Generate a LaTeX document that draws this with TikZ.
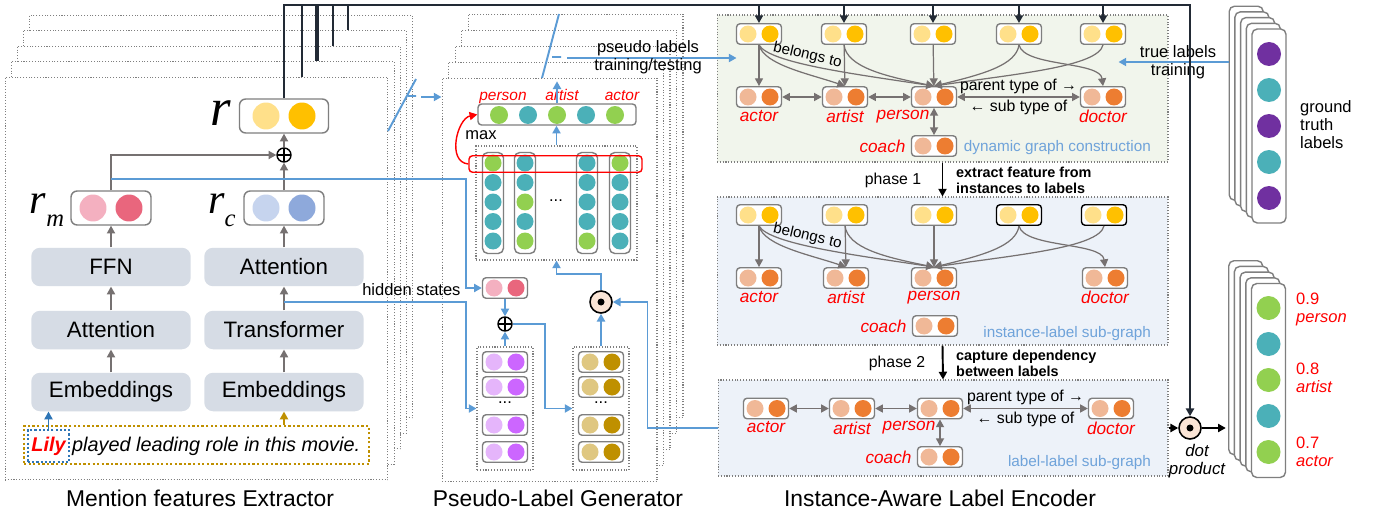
\documentclass[tikz,border=0pt]{standalone}
\usepackage{fontspec}
\setmainfont{Liberation Sans}
\newfontfamily\rfont{Liberation Serif}
\usepackage{tikz}
\usetikzlibrary{arrows.meta,positioning,calc}
\usepackage{xcolor}

\definecolor{linegray}{HTML}{767171}
\definecolor{boxgray}{HTML}{7F7F7F}
\definecolor{blockbg}{HTML}{D6DCE5}
\definecolor{flowblue}{HTML}{5B9BD5}
\definecolor{lilyblue}{HTML}{2E75B6}
\definecolor{navy}{HTML}{222A35}
\definecolor{ylwL}{HTML}{FFE08A}
\definecolor{ylwD}{HTML}{FFC000}
\definecolor{pnkL}{HTML}{F4B0C0}
\definecolor{pnkD}{HTML}{E9667D}
\definecolor{bluL}{HTML}{C6D4EE}
\definecolor{bluD}{HTML}{8EA9DB}
\definecolor{grn}{HTML}{92D050}
\definecolor{tea}{HTML}{4BB0B8}
\definecolor{orgL}{HTML}{F0B897}
\definecolor{orgD}{HTML}{ED7D31}
\definecolor{prpL}{HTML}{E5B5FB}
\definecolor{prpD}{HTML}{CC66FF}
\definecolor{gldL}{HTML}{DFC781}
\definecolor{gldD}{HTML}{BF9000}
\definecolor{gtprp}{HTML}{7030A0}
\definecolor{peach}{HTML}{FBE5D6}
\definecolor{dgbg}{HTML}{F1F5EC}
\definecolor{sgbg}{HTML}{EDF2F9}
\definecolor{tagblue}{HTML}{6FA3DA}

% a small box holding two feature dots
\newcommand{\duo}[5][]{%
  \node[pair,#1] (#2) at (#3) {};
  \node[ball,fill=#4] (#2-l) at ($(#2.center)+(-11,0)$) {};
  \node[ball,fill=#5] (#2-r) at ($(#2.center)+(11,0)$) {};
}
\newcommand{\bigduo}[5][]{%
  \node[bigpair,#1] (#2) at (#3) {};
  \node[bigball,fill=#4] (#2-l) at ($(#2.center)+(-18,0)$) {};
  \node[bigball,fill=#5] (#2-r) at ($(#2.center)+(18,0)$) {};
}
% italic r with a lowered index
\newcommand{\rsub}[1]{{\rfont\itshape r\raisebox{-0.32em}{\fontsize{14}{14}\selectfont #1}}}

\begin{document}
\begin{tikzpicture}[x=0.02cm, y=-0.02cm,
        every node/.style={font=\fontsize{9.4}{10.2}\selectfont},
        every label/.style={text=red, font=\fontsize{9.8}{10}\selectfont\itshape, inner sep=0pt},
        label distance=1pt,
        >={Triangle[width=4.6pt,length=4.4pt]},
        sheet/.style={draw=boxgray, densely dotted, line width=0.6pt, fill=white, inner sep=0pt},
        gbox/.style={draw=boxgray, densely dotted, line width=0.6pt, inner sep=0pt},
        pair/.style={draw=boxgray, line width=0.8pt, rounded corners=2pt, fill=white, inner sep=0pt, minimum width=0.9cm, minimum height=0.41cm},
        bigpair/.style={pair, rounded corners=3.5pt, minimum width=1.6cm, minimum height=0.68cm},
        ball/.style={circle, inner sep=0pt, minimum size=0.34cm},
        bigball/.style={circle, inner sep=0pt, minimum size=0.54cm},
        col/.style={draw=boxgray, line width=0.8pt, rounded corners=3pt, inner sep=0pt, minimum width=0.42cm, minimum height=2.02cm},
        card/.style={draw=boxgray, line width=0.8pt, rounded corners=3pt, fill=white, inner sep=0pt, minimum width=0.68cm, minimum height=3.88cm},
        block/.style={fill=blockbg, rounded corners=5pt, inner sep=0pt, minimum width=3.19cm, minimum height=0.77cm, font=\fontsize{12.7}{14}\selectfont},
        title/.style={anchor=base, font=\fontsize{13}{15}\selectfont},
        rtag/.style={anchor=base, text=red, font=\fontsize{8.8}{10}\selectfont\itshape},
        rel/.style={font=\fontsize{9}{10}\selectfont, inner sep=1.5pt},
        subtag/.style={anchor=east, text=tagblue, font=\fontsize{8.7}{10}\selectfont},
        note/.style={anchor=west, align=left, font=\fontsize{8.2}{9.2}\selectfont\bfseries},
        garrow/.style={draw=linegray, line width=0.9pt, ->},
        gedge/.style={draw=linegray, line width=0.7pt, ->},
        gboth/.style={draw=linegray, line width=0.8pt, <->},
        bline/.style={draw=flowblue, line width=1.1pt},
        barrow/.style={bline, ->},
        topline/.style={draw=navy, line width=1.3pt},
        tarrow/.style={topline, ->},
        oplus/.style={circle, draw, line width=0.8pt, fill=white, inner sep=0pt, minimum size=0.28cm,
          path picture={\draw[line width=0.8pt] (path picture bounding box.north) -- (path picture bounding box.south)
            (path picture bounding box.west) -- (path picture bounding box.east);}},
        odot/.style={circle, draw, line width=0.9pt, fill=peach, inner sep=0pt, minimum size=0.44cm,
          path picture={\fill[black] (path picture bounding box.center) circle[radius=0.07cm];}}
      ]
      \useasboundingbox (0,0) rectangle (1375,517);

      % mention features extractor
      \foreach \i in {4,...,0}
        \node[sheet, minimum width=7.66cm, minimum height=8.06cm] (mfe\i) at (196.5+6.1*\i, 278.5-15.5*\i) {};
      \node[block] (emb1) at (111,392) {Embeddings};
      \node[block] (att1) at (111,330) {Attention};
      \node[block] (ffn) at (111,267) {FFN};
      \node[block] (emb2) at (284,392) {Embeddings};
      \node[block] (trans) at (284,330) {Transformer};
      \node[block] (att2) at (284,267) {Attention};
      \bigduo{rm}{111,208}{pnkL}{pnkD}
      \bigduo{rc}{284,208}{bluL}{bluD}
      \bigduo[minimum width=1.78cm]{rvec}{284,116}{ylwL}{ylwD}
      \node[oplus] (plus) at (284,155) {};
      \node[anchor=base, font=\fontsize{30}{30}\selectfont] (rlbl) at (221,126) {\rsub{}};
      \node[anchor=base, font=\fontsize{24}{24}\selectfont] (rmlbl) at (47,213) {\rsub{m}};
      \node[anchor=base, font=\fontsize{24}{24}\selectfont] (rclbl) at (222,213) {\rsub{c}};
      \node[draw=gldD, dash pattern=on 1.3pt off 1.3pt, line width=1pt, inner sep=0pt,
        minimum width=6.9cm, minimum height=0.76cm] (sent) at (196.5,445) {};
      \node[draw=lilyblue, dash pattern=on 1.2pt off 1.2pt, line width=0.9pt, inner sep=0pt,
        minimum width=0.82cm, minimum height=0.64cm, font=\fontsize{11.3}{12}\selectfont\itshape]
        (lily) at (48.5,446) {\textcolor{red}{\bfseries Lily}};
      \node[base right=0.04cm of lily, inner sep=0pt, font=\fontsize{11.3}{12}\selectfont\itshape]
        (words) {played leading role in this movie.};
      \node[title] (t1) at (200,506) {Mention features Extractor};

      % pseudo-label generator
      \foreach \i in {4,...,0}
        \node[sheet, minimum width=4.3cm, minimum height=8.08cm] (plg\i) at (549.5+6.5*\i, 280-16*\i) {};
      \node[gbox, minimum width=3.22cm, minimum height=2.28cm] (inner) at (556.5,203) {};
      \foreach \x/\j/\cs in {493/1/{grn,tea,tea,tea,tea}, 525/2/{tea,tea,grn,tea,grn},
                             587/3/{tea,tea,tea,tea,grn}, 620/4/{grn,tea,tea,tea,tea}} {
        \node[col] (col\j) at (\x,203) {};
        \foreach \clr [count=\k] in \cs
          \node[ball, fill=\clr] (col\j-\k) at (\x,143.5+19.5*\k) {};
      }
      \node (cdots) at (556,201) {...};
      \node[draw=red, line width=0.8pt, rounded corners=2pt, inner sep=0pt,
        minimum width=3.46cm, minimum height=0.33cm] (maxrow) at (555.5,164) {};
      \node[pair, minimum width=3.16cm, minimum height=0.42cm] (outvec) at (557,114.5) {};
      \foreach \clr [count=\k] in {grn,tea,grn,tea,grn}
        \node[ball, fill=\clr, minimum size=0.36cm] (out\k) at (470+29*\k,115) {};
      \node[rtag] (tperson) at (503,101) {person};
      \node[rtag] (tartist) at (562,101) {artist};
      \node[rtag] (tactor) at (622,101) {actor};
      \node (maxlbl) at (481,135) {max};
      \duo{mpink}{505,288}{pnkL}{pnkD}
      \node[oplus] (mplus) at (505,324) {};
      \node[gbox, minimum width=1.12cm, minimum height=2.46cm] (pstack) at (505,408.5) {};
      \node[gbox, minimum width=1.12cm, minimum height=2.46cm] (gstack) at (601,408.5) {};
      \foreach \y [count=\k] in {362,387,425,452} {
        \duo{pv\k}{505,\y}{prpL}{prpD}
        \duo{gv\k}{601,\y}{gldL}{gldD}
      }
      \node (pdots) at (505,403) {...};
      \node (gdots) at (601,403) {...};
      \node[odot] (odot) at (601,302) {};
      \node[title] (t2) at (558,506) {Pseudo-Label Generator};

      % instance-aware label encoder
      \node[gbox, fill=dgbg, minimum width=9.02cm, minimum height=2.94cm] (dgbox) at (942.5,88.5) {};
      \node[gbox, fill=sgbg, minimum width=9.02cm, minimum height=2.96cm] (ilbox) at (942.5,271) {};
      \node[gbox, fill=sgbg, minimum width=9cm, minimum height=1.92cm] (llbox) at (943,428) {};
      \foreach \x [count=\k] in {759,844,933,1019,1103} {\duo{a\k}{\x,34}{ylwL}{ylwD}}
      \duo[label=below:actor]{aactor}{759,97}{orgL}{orgD}
      \duo[label=below:artist]{aartist}{845,97}{orgL}{orgD}
      \duo[label={[xshift=-0.62cm]below:person}]{aperson}{934,97}{orgL}{orgD}
      \duo[label=below:doctor]{adoctor}{1103,97}{orgL}{orgD}
      \duo[label={[label distance=0.1cm]left:coach}]{acoach}{934,146}{orgL}{orgD}
      \foreach \x/\s [count=\k] in {759/boxgray, 845/boxgray, 934/boxgray, 1019/black, 1104/black}
        {\duo[draw=\s]{b\k}{\x,215}{ylwL}{ylwD}}
      \duo[label=below:actor]{bactor}{759,278}{orgL}{orgD}
      \duo[label=below:artist]{bartist}{846,278}{orgL}{orgD}
      \duo[label=below:person]{bperson}{934,278}{orgL}{orgD}
      \duo[label=below:doctor]{bdoctor}{1105,278}{orgL}{orgD}
      \duo[label={[label distance=0.1cm]left:coach}]{bcoach}{935,326}{orgL}{orgD}
      \duo[label=below:actor]{cactor}{766,408.5}{orgL}{orgD}
      \duo[label=below:artist]{cartist}{852,408.5}{orgL}{orgD}
      \duo[label={[xshift=-0.62cm]below:person}]{cperson}{940,408.5}{orgL}{orgD}
      \duo[label=below:doctor]{cdoctor}{1111,408.5}{orgL}{orgD}
      \duo[label={[label distance=0.1cm]left:coach}]{ccoach}{940,457}{orgL}{orgD}
      \node[subtag] (dgtag) at (1157,148) {dynamic graph construction};
      \node[subtag] (iltag) at (1157,334) {instance-label sub-graph};
      \node[subtag] (lltag) at (1157,463) {label-label sub-graph};
      \node[font=\fontsize{9}{10}\selectfont] (ph1) at (893,180) {phase 1};
      \node[note] (ph1txt) at (950,180) {extract feature from\\instances to labels};
      \node[font=\fontsize{9}{10}\selectfont] (ph2) at (897,363) {phase 2};
      \node[note] (ph2txt) at (950,363) {capture dependency\\between labels};
      \node[title] (t3) at (940,506) {Instance-Aware Label Encoder};

      % label cards
      \foreach \i in {4,...,0} {
        \node[card] (gt\i) at (1269-5.7*\i,126-5.7*\i) {};
        \node[card] (pr\i) at (1268.5-5.7*\i,380.5-5.7*\i) {};
      }
      \foreach \clr [count=\k] in {gtprp,tea,gtprp,tea,gtprp}
        \node[ball, fill=\clr, minimum size=0.48cm] (gtb\k) at (1269,18+36*\k) {};
      \foreach \clr [count=\k] in {grn,tea,grn,tea,grn}
        \node[ball, fill=\clr, minimum size=0.48cm] (prb\k) at (1268.5,272+36*\k) {};
      \node[anchor=west, align=left] (gttxt) at (1294,125) {ground\\truth\\labels};
      \node[anchor=west, align=left, text=red] (sc1) at (1290,309) {0.9\\\textit{person}};
      \node[anchor=west, align=left, text=red] (sc2) at (1290,377.5) {0.8\\\textit{artist}};
      \node[anchor=west, align=left, text=red] (sc3) at (1290,452) {0.7\\\textit{actor}};
      \node[odot] (dotp) at (1190,428) {};
      \node[align=center, font=\fontsize{9.6}{10.2}\selectfont\itshape] (dptxt) at (1197,461) {dot\\product};

      % extractor connectors
      \draw[garrow] (emb1) -- (att1);
      \draw[garrow] (att1) -- (ffn);
      \draw[garrow] (ffn) -- (rm);
      \draw[garrow] (emb2) -- (trans);
      \draw[garrow] (trans) -- (att2);
      \draw[garrow] (att2) -- (rc);
      \draw[garrow] (rc) -- (plus);
      \draw[garrow] (rm.north) |- (plus.west);
      \draw[garrow] (plus) -- (rvec);
      \draw[->, draw=lilyblue, line width=1pt] (lily.north) -- (lily.north |- emb1.south);
      \draw[->, draw=gldD, line width=1pt] (sent.north -| emb2) -- (emb2.south);
      \coordinate (rmtap) at (111,179);
      \coordinate (hstap) at (284,302);
      \draw[barrow] (rmtap) -- ++(355,0) |- (mpink.west);
      \draw[barrow] (hstap) -- node[pos=.7, above, text=black] {hidden states} ++(182,0) |- (pstack.west);

      % generator connectors
      \draw[barrow] (mpink) -- (mplus);
      \draw[barrow] (pstack) -- (mplus);
      \draw[barrow] (mplus.east) -- ++(32,0) |- (gstack.west);
      \draw[barrow] (gstack) -- (odot);
      \draw[barrow] (odot.north) -- ++(0,-16) -| (inner.south);
      \draw[barrow] (inner.north) -- (inner.north |- outvec.south);
      \draw[barrow] (outvec.north) -- ++(0,-22);
      \draw[barrow] (llbox.west) -- ++(-70,0) |- (odot.east);
      \draw[->, red, line width=0.8pt] (maxrow.west) .. controls +(-22,-2) and +(-20,4) .. (outvec.west);
      \draw[bline] (388,131) -- (416,79) (408,96) -- (416,96);
      \coordinate (lout) at (421,97);
      \draw[barrow] (lout) -- (lout -| plg0.west);
      \draw[bline] (542,78) -- (559,14) (552,57) -- (561,57);
      \coordinate (plout) at (567,58);
      \draw[barrow] (plout) -- ($(plout -| dgbox.west)+(20,0)$);
      \node[align=center] (pltxt) at (648,57) {pseudo labels\\training/testing};
      \coordinate (tlout) at (gt4.west |- 0,62);
      \draw[barrow] (tlout) -- ($(tlout -| dgbox.east)+(-50,0)$);
      \node[align=center] (tltxt) at (1178,62) {true labels\\training};

      % graph edges
      \foreach \g in {a,b} {
        \draw[gedge] (\g1) -- (\g actor);
        \draw[gedge] (\g1.south) .. controls +(5,20) and +(-35,-12) .. (\g artist.north);
        \draw[gedge] (\g1.south) .. controls +(10,18) and +(-80,-12) .. (\g person.north)
          node[pos=.42, above, sloped, inner sep=1pt, font=\fontsize{8.6}{9}\selectfont] {belongs to};
        \draw[gedge] (\g2) -- (\g artist);
        \draw[gedge] (\g2.south) .. controls +(3,22) and +(-50,-10) .. (\g person.north);
        \draw[gedge] (\g3) -- (\g person);
        \draw[gedge] (\g4.south) .. controls +(-3,20) and +(50,-12) .. (\g person.north);
        \draw[gedge] (\g4.south) .. controls +(5,22) and +(-3,-25) .. (\g doctor.north);
        \draw[gedge] (\g5.south) .. controls +(-5,22) and +(80,-12) .. (\g person.north);
      }
      \foreach \g in {a,c} {
        \draw[gboth] (\g actor) -- (\g artist);
        \draw[gboth] (\g artist) -- (\g person);
        \draw[gboth] (\g person) -- node[above, rel] {parent type of →} node[below, rel] {← sub type of} (\g doctor);
        \draw[gboth] (\g person) -- (\g coach);
      }
      \draw[->, line width=1.1pt] (dgbox.south) -- (ilbox.north);
      \draw[->, line width=1.1pt] (ilbox.south) -- (llbox.north);

      % instance features to every step
      \draw[tarrow] (rvec.north) |- (dotp.north |- 0,5) -- (dotp.north);
      \foreach \x/\k/\w in {302/0/1.3pt, 317/1/2.2pt, 333/2/1.3pt, 348/3/1.3pt}
        \draw[topline, line width=\w] (\x,5) -- (\x,5 |- mfe\k.north);
      \foreach \k in {1,...,5}
        \draw[tarrow] (a\k.north |- 0,5) -- (a\k.north);
      \draw[tarrow, draw=black] (llbox.east) -- (dotp.west);
      \draw[tarrow, draw=black] (dotp.east) -- ++(24,0);
    \end{tikzpicture}
\end{document}
